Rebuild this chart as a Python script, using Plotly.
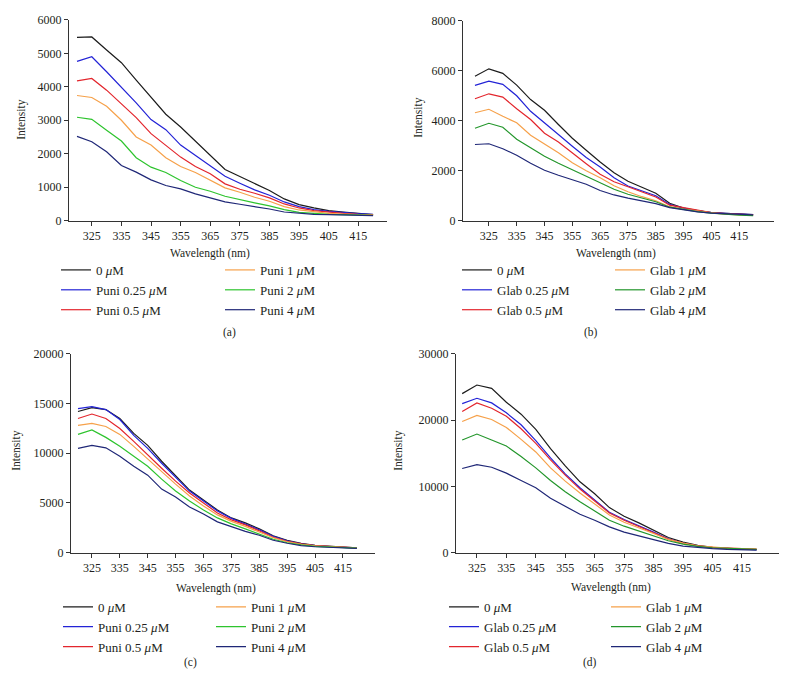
import plotly.graph_objects as go

# The page body has an 8px default margin; size the figure so nothing overflows.
OFF = 8
W, H = 788 - 2 * OFF, 696 - 2 * OFF

wavelength = [320, 325, 330, 335, 340, 345, 350, 355, 360, 365, 370,
              375, 380, 385, 390, 395, 400, 405, 410, 415, 420]
x_tickvals = [325, 335, 345, 355, 365, 375, 385, 395, 405, 415]

# Panel (a): Puni, low range
a_0 = [5480, 5490, 5100, 4720, 4200, 3700, 3180, 2800, 2380, 1980, 1530,
       1320, 1100, 900, 650, 480, 380, 300, 260, 210, 180]
a_025 = [4760, 4900, 4450, 4000, 3520, 3020, 2720, 2260, 1950, 1620, 1330,
         1120, 920, 760, 560, 420, 330, 280, 240, 210, 190]
a_05 = [4180, 4250, 3900, 3500, 3080, 2600, 2260, 1900, 1620, 1400, 1100,
        940, 820, 680, 500, 380, 300, 250, 220, 190, 180]
a_1 = [3740, 3680, 3420, 3000, 2500, 2260, 1880, 1620, 1440, 1200, 980,
       850, 700, 580, 420, 320, 260, 220, 200, 180, 170]
a_2 = [3090, 3030, 2700, 2380, 1880, 1600, 1440, 1200, 1000, 880, 730,
       620, 530, 440, 330, 250, 210, 190, 180, 170, 160]
a_4 = [2520, 2360, 2060, 1650, 1450, 1220, 1050, 950, 800, 680, 560,
       490, 430, 350, 260, 220, 190, 180, 170, 160, 150]

# Panel (b): Glab, low range
b_0 = [5780, 6080, 5900, 5430, 4850, 4420, 3850, 3300, 2820, 2350, 1920,
       1580, 1340, 1100, 700, 500, 400, 320, 290, 260, 240]
b_025 = [5420, 5590, 5460, 5000, 4380, 3900, 3450, 2980, 2530, 2150, 1720,
         1390, 1200, 1000, 650, 490, 390, 320, 290, 260, 240]
b_05 = [4880, 5080, 4950, 4480, 4050, 3500, 3150, 2700, 2280, 1860, 1560,
        1360, 1150, 950, 620, 510, 400, 320, 280, 250, 230]
b_1 = [4320, 4460, 4180, 3920, 3420, 3080, 2720, 2320, 2000, 1720, 1400,
       1160, 960, 800, 560, 460, 380, 310, 260, 230, 210]
b_2 = [3700, 3900, 3740, 3260, 2920, 2580, 2300, 2040, 1760, 1520, 1260,
       1060, 900, 760, 540, 440, 360, 300, 250, 220, 200]
b_4 = [3050, 3080, 2880, 2620, 2300, 2020, 1820, 1640, 1460, 1210, 1030,
       900, 800, 680, 520, 420, 350, 300, 270, 250, 230]

# Panel (c): Puni, high range
c_0 = [14200, 14600, 14400, 13500, 12000, 10800, 9200, 7700, 6300, 5300, 4300,
       3500, 3000, 2400, 1700, 1250, 950, 750, 650, 550, 480]
c_025 = [14500, 14700, 14400, 13400, 11800, 10500, 9000, 7600, 6200, 5200, 4200,
         3450, 2900, 2300, 1650, 1200, 900, 720, 620, 530, 460]
c_05 = [13500, 13950, 13500, 12500, 11200, 9800, 8500, 7200, 6000, 5000, 4000,
        3300, 2800, 2200, 1550, 1150, 880, 720, 620, 540, 480]
c_1 = [12800, 13000, 12700, 11900, 10700, 9400, 8100, 6900, 5700, 4700, 3800,
       3150, 2650, 2100, 1500, 1100, 850, 700, 600, 520, 470]
c_2 = [11900, 12350, 11600, 10700, 9700, 8700, 7400, 6200, 5200, 4300, 3500,
       2900, 2400, 1900, 1350, 1000, 780, 640, 560, 500, 460]
c_4 = [10500, 10800, 10550, 9700, 8700, 7800, 6400, 5600, 4600, 3900, 3100,
       2600, 2150, 1750, 1250, 950, 720, 600, 520, 470, 430]

# Panel (d): Glab, high range
d_0 = [24000, 25300, 24800, 22700, 20900, 18600, 15700, 13100, 10700, 8900, 6800,
       5500, 4500, 3400, 2300, 1600, 1100, 800, 650, 550, 480]
d_025 = [22500, 23300, 22600, 21100, 19300, 16900, 14300, 11900, 9800, 8000, 6100,
         5000, 4100, 3100, 2100, 1450, 1000, 750, 620, 530, 460]
d_05 = [21300, 22600, 21800, 20600, 18700, 16500, 14000, 11700, 9600, 7800, 6000,
        4900, 4000, 3000, 2050, 1450, 1050, 800, 680, 600, 540]
d_1 = [19800, 20700, 20100, 18900, 17100, 15200, 12800, 10800, 9000, 7300, 5700,
       4600, 3800, 2900, 2000, 1450, 1050, 820, 700, 620, 560]
d_2 = [17000, 17900, 17000, 16100, 14500, 12800, 10900, 9200, 7700, 6300, 4900,
       4000, 3300, 2600, 1800, 1300, 950, 750, 640, 560, 500]
d_4 = [12700, 13300, 12900, 12000, 10900, 9800, 8200, 7000, 5800, 4900, 3900,
       3100, 2500, 2000, 1400, 1000, 750, 600, 500, 440, 400]

conc_labels = ["0", "0.25", "0.5", "1", "2", "4"]

FONT = "Liberation Serif, Times New Roman, serif"
TXT = "#231f20"
TICK_SIZE = 12
TITLE_SIZE = 11.5
LEGEND_SIZE = 13

COL_BLACK = "#1c1c1c"
COL_BLUE = "#2323d6"
COL_RED = "#e3262d"
COL_ORANGE = "#f6a14a"
COL_GREEN_BRIGHT = "#2ec42e"
COL_GREEN_DARK = "#23962b"
COL_NAVY = "#1f2777"

panels = [
    dict(tag="a", compound="Puni", series=[a_0, a_025, a_05, a_1, a_2, a_4],
         green=COL_GREEN_BRIGHT, xax="x", yax="y", legends=("legend", "legend2")),
    dict(tag="b", compound="Glab", series=[b_0, b_025, b_05, b_1, b_2, b_4],
         green=COL_GREEN_DARK, xax="x2", yax="y2", legends=("legend3", "legend4")),
    dict(tag="c", compound="Puni", series=[c_0, c_025, c_05, c_1, c_2, c_4],
         green=COL_GREEN_BRIGHT, xax="x3", yax="y3", legends=("legend5", "legend6")),
    dict(tag="d", compound="Glab", series=[d_0, d_025, d_05, d_1, d_2, d_4],
         green=COL_GREEN_DARK, xax="x4", yax="y4", legends=("legend7", "legend8")),
]

fig = go.Figure()
for p in panels:
    colors = [COL_BLACK, COL_BLUE, COL_RED, COL_ORANGE, p["green"], COL_NAVY]
    for i, (vals, conc) in enumerate(zip(p["series"], conc_labels)):
        if conc == "0":
            name = "0 <i>μ</i>M"
        else:
            name = f"{p['compound']} {conc} <i>μ</i>M"
        fig.add_trace(go.Scatter(
            x=wavelength, y=vals, mode="lines", name=name,
            line=dict(color=colors[i], width=1.2),
            xaxis=p["xax"], yaxis=p["yax"],
            legend=p["legends"][0] if i < 3 else p["legends"][1],
            showlegend=True, hoverinfo="skip",
        ))


def px_x(v):
    return (v - OFF) / W


def px_y(v):
    return 1 - (v - OFF) / H


axis_common = dict(
    showline=True, linecolor="#333333", linewidth=1, mirror=False,
    ticks="outside", ticklen=4, tickwidth=1, tickcolor="#333333",
    showgrid=False, zeroline=False,
    tickfont=dict(family=FONT, size=TICK_SIZE, color=TXT),
)

layout_axes = {
    # (a)
    "xaxis": dict(domain=[px_x(69), px_x(387)], range=[317.3, 424.7],
                  tickvals=x_tickvals, anchor="y", **axis_common),
    "yaxis": dict(domain=[px_y(218), px_y(13)], range=[0, 6000], dtick=1000,
                  tickformat="d", anchor="x", **axis_common),
    # (b)
    "xaxis2": dict(domain=[px_x(463), px_x(774)], range=[315.7, 427.5],
                   tickvals=x_tickvals, anchor="y2", **axis_common),
    "yaxis2": dict(domain=[px_y(218), px_y(14)], range=[0, 8000], dtick=2000,
                   tickformat="d", anchor="x2", **axis_common),
    # (c)
    "xaxis3": dict(domain=[px_x(71), px_x(375)], range=[317.5, 426.5],
                   tickvals=x_tickvals, anchor="y3", **axis_common),
    "yaxis3": dict(domain=[px_y(557), px_y(354)], range=[0, 20000], dtick=5000,
                   tickformat="d", anchor="x3", **axis_common),
    # (d)
    "xaxis4": dict(domain=[px_x(456), px_x(779)], range=[317.9, 427.6],
                   tickvals=x_tickvals, anchor="y4", **axis_common),
    "yaxis4": dict(domain=[px_y(557), px_y(354)], range=[0, 30000], dtick=10000,
                   tickformat="d", anchor="x4", **axis_common),
}

legend_common = dict(
    xanchor="left", yanchor="top", orientation="v",
    bgcolor="rgba(0,0,0,0)", borderwidth=0,
    font=dict(family=FONT, size=LEGEND_SIZE, color=TXT),
    tracegroupgap=0,
)
legend_pos = {
    "legend": (56, 253), "legend2": (220, 253),
    "legend3": (457, 253), "legend4": (610, 253),
    "legend5": (58, 597), "legend6": (211, 597),
    "legend7": (444, 597), "legend8": (606, 597),
}
layout_legends = {k: dict(x=px_x(v[0]), y=px_y(v[1]), **legend_common)
                  for k, v in legend_pos.items()}

annotations = []
for (xp, yp) in [(210, 252), (616, 252), (216, 594), (611, 593)]:
    annotations.append(dict(text="Wavelength (nm)", x=px_x(xp), y=px_y(yp),
                            xref="paper", yref="paper", showarrow=False,
                            xanchor="center", yanchor="middle",
                            font=dict(family=FONT, size=TITLE_SIZE, color=TXT)))
for (xp, yp) in [(22, 115), (419, 113), (17, 453), (399, 453)]:
    annotations.append(dict(text="Intensity", x=px_x(xp), y=px_y(yp),
                            xref="paper", yref="paper", showarrow=False,
                            textangle=-90, xanchor="center", yanchor="middle",
                            font=dict(family=FONT, size=TITLE_SIZE, color=TXT)))
for (lab, xp, yp) in [("(a)", 229, 332), ("(b)", 591, 332),
                      ("(c)", 190, 669), ("(d)", 590, 669)]:
    annotations.append(dict(text=lab, x=px_x(xp), y=px_y(yp),
                            xref="paper", yref="paper", showarrow=False,
                            xanchor="center", yanchor="middle",
                            font=dict(family=FONT, size=TITLE_SIZE, color=TXT)))

fig.update_layout(
    width=W, height=H, autosize=False,
    margin=dict(l=0, r=0, t=0, b=0),
    paper_bgcolor="white", plot_bgcolor="white",
    font=dict(family=FONT, size=TICK_SIZE, color=TXT),
    annotations=annotations,
    hovermode=False,
    **layout_axes,
    **layout_legends,
)

fig.write_html("out.html")
